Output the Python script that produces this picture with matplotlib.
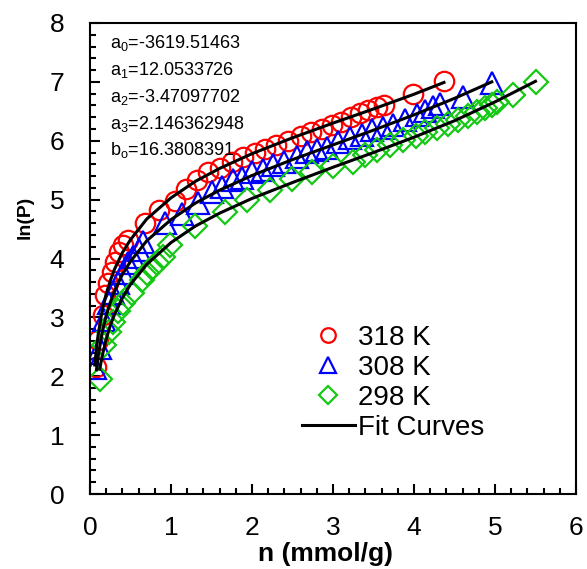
import matplotlib
matplotlib.use('Agg')
import matplotlib.pyplot as plt
from matplotlib.ticker import MultipleLocator

plt.rcParams['font.family'] = ['Liberation Sans', 'DejaVu Sans']
plt.rcParams['mathtext.fontset'] = 'custom'
plt.rcParams['mathtext.rm'] = 'Liberation Sans'
plt.rcParams['mathtext.default'] = 'regular'

# 318 K isotherm
n_318 = [0.07, 0.10, 0.16, 0.19, 0.22, 0.27, 0.31, 0.36, 0.41, 0.47, 0.68, 0.85,
         1.05, 1.18, 1.32, 1.46, 1.60, 1.75, 1.89, 2.04, 2.16, 2.30, 2.45, 2.60,
         2.73, 2.86, 2.99, 3.10, 3.22, 3.33, 3.43, 3.54, 3.63, 3.99, 4.37]
lnp_318 = [2.16, 2.61, 3.04, 3.38, 3.58, 3.77, 3.94, 4.11, 4.23, 4.31, 4.60, 4.82,
           4.98, 5.18, 5.33, 5.47, 5.53, 5.64, 5.72, 5.79, 5.86, 5.93, 6.00, 6.08,
           6.15, 6.20, 6.27, 6.32, 6.40, 6.47, 6.52, 6.57, 6.61, 6.79, 7.01]

# 308 K isotherm
n_308 = [0.06, 0.12, 0.17, 0.23, 0.29, 0.35, 0.41, 0.47, 0.53, 0.60, 0.66, 0.93,
         1.14, 1.33, 1.50, 1.63, 1.77, 1.88, 2.00, 2.14, 2.26, 2.39, 2.55, 2.68,
         2.80, 2.93, 3.06, 3.21, 3.36, 3.48, 3.62, 3.74, 3.89, 4.04, 4.14, 4.24,
         4.32, 4.60, 4.96]
lnp_308 = [2.14, 2.48, 2.95, 3.24, 3.41, 3.58, 3.75, 3.92, 4.02, 4.14, 4.28, 4.60,
           4.76, 4.94, 5.13, 5.21, 5.33, 5.37, 5.47, 5.50, 5.59, 5.64, 5.72, 5.81,
           5.84, 5.88, 5.98, 6.04, 6.10, 6.18, 6.21, 6.27, 6.35, 6.43, 6.50, 6.57,
           6.62, 6.74, 6.98]

# 298 K isotherm
n_298 = [0.12, 0.17, 0.23, 0.29, 0.35, 0.41, 0.52, 0.64, 0.70, 0.77, 0.83, 0.90,
         0.99, 1.30, 1.67, 1.94, 2.22, 2.49, 2.74, 3.00, 3.25, 3.40, 3.54, 3.70,
         3.86, 4.02, 4.14, 4.28, 4.42, 4.54, 4.67, 4.78, 4.88, 4.96, 5.02, 5.22, 5.51]
lnp_298 = [1.95, 2.53, 2.75, 2.92, 3.10, 3.24, 3.41, 3.63, 3.75, 3.84, 3.92, 4.02,
           4.23, 4.55, 4.79, 4.99, 5.16, 5.35, 5.47, 5.57, 5.64, 5.76, 5.84, 5.93,
           6.01, 6.08, 6.15, 6.22, 6.28, 6.35, 6.42, 6.49, 6.55, 6.60, 6.66, 6.77, 7.00]

# fit curves
fit_n_318 = [0.06, 0.08, 0.1, 0.15, 0.2, 0.25, 0.3, 0.4, 0.5, 0.7, 1.0, 1.3, 1.6,
             2.0, 2.5, 3.0, 3.5, 4.0, 4.37]
fit_lnp_318 = [2.19, 2.48, 2.70, 3.11, 3.40, 3.62, 3.81, 4.10, 4.32, 4.67, 5.03, 5.31,
               5.53, 5.78, 6.05, 6.30, 6.54, 6.79, 6.99]
fit_n_308 = [0.08, 0.1, 0.15, 0.2, 0.25, 0.3, 0.4, 0.5, 0.7, 1.0, 1.3, 1.6, 2.0,
             2.5, 3.0, 3.5, 4.0, 4.5, 4.96]
fit_lnp_308 = [2.11, 2.33, 2.74, 3.03, 3.25, 3.44, 3.73, 3.95, 4.30, 4.66, 4.94, 5.16,
               5.41, 5.68, 5.93, 6.18, 6.44, 6.72, 7.00]
fit_n_298 = [0.12, 0.15, 0.2, 0.25, 0.3, 0.4, 0.5, 0.7, 1.0, 1.3, 1.6, 2.0, 2.5,
             3.0, 3.5, 4.0, 4.5, 5.0, 5.5]
fit_lnp_298 = [2.12, 2.34, 2.63, 2.86, 3.04, 3.33, 3.56, 3.90, 4.27, 4.55, 4.77, 5.02,
               5.29, 5.55, 5.80, 6.06, 6.34, 6.66, 7.01]

coef_names = ['$a_0$', '$a_1$', '$a_2$', '$a_3$', '$b_o$']
coef_values = ['-3619.51463', '12.0533726', '-3.47097702', '2.146362948', '16.3808391']

fig = plt.figure(figsize=(5.87, 5.69), dpi=100)
ax = fig.add_axes([90/587, 75/569, 486/587, 471/569])

RED = '#ff0000'
BLUE = '#0000ff'
GREEN = '#14c814'

ax.plot(n_318, lnp_318, 'o', ms=14, mfc='none', mec=RED, mew=1.6, label='318 K')
ax.plot(n_308, lnp_308, '^', ms=16, mfc='none', mec=BLUE, mew=1.6, label='308 K')
ax.plot(n_298, lnp_298, 'D', ms=12, mfc='none', mec=GREEN, mew=1.6, label='298 K')
ax.plot(fit_n_318, fit_lnp_318, '-', color='black', lw=2.2, label='Fit Curves')
ax.plot(fit_n_308, fit_lnp_308, '-', color='black', lw=2.2)
ax.plot(fit_n_298, fit_lnp_298, '-', color='black', lw=2.2)

ax.set_xlim(0, 6)
ax.set_ylim(0, 8)
ax.xaxis.set_major_locator(MultipleLocator(1))
ax.xaxis.set_minor_locator(MultipleLocator(0.2))
ax.yaxis.set_major_locator(MultipleLocator(1))
ax.yaxis.set_minor_locator(MultipleLocator(0.2))
ax.tick_params(which='both', direction='in', top=False, right=False, width=1.5)
ax.tick_params(which='major', length=7)
ax.tick_params(which='minor', length=4)
ax.tick_params(axis='x', which='major', labelsize=19, pad=16)
ax.tick_params(axis='y', which='major', labelsize=19, pad=18.5)
for s in ax.spines.values():
    s.set_linewidth(1.5)

# fit parameters
for i, (name, val) in enumerate(zip(coef_names, coef_values)):
    ax.text(0.247, 7.567 - i * 0.453, name + '=' + val, fontsize=13, va='baseline', ha='left')

fig.text(25/587, 1 - 217/569, 'ln(P)', rotation=90, ha='center', va='center',
         fontsize=14, fontweight='bold')
fig.text(326/587, 1 - 561/569, 'n (mmol/g)', ha='center', va='baseline',
         fontsize=19, fontweight='bold')

ax.legend(loc='upper left', bbox_to_anchor=(302/587, 1 - 325/569),
          bbox_transform=fig.transFigure, frameon=False, fontsize=20,
          borderpad=0, borderaxespad=0, handlelength=1.9, handletextpad=0.12,
          labelspacing=0.14, markerscale=0.75, numpoints=1)

fig.savefig('out.png', dpi=100)
